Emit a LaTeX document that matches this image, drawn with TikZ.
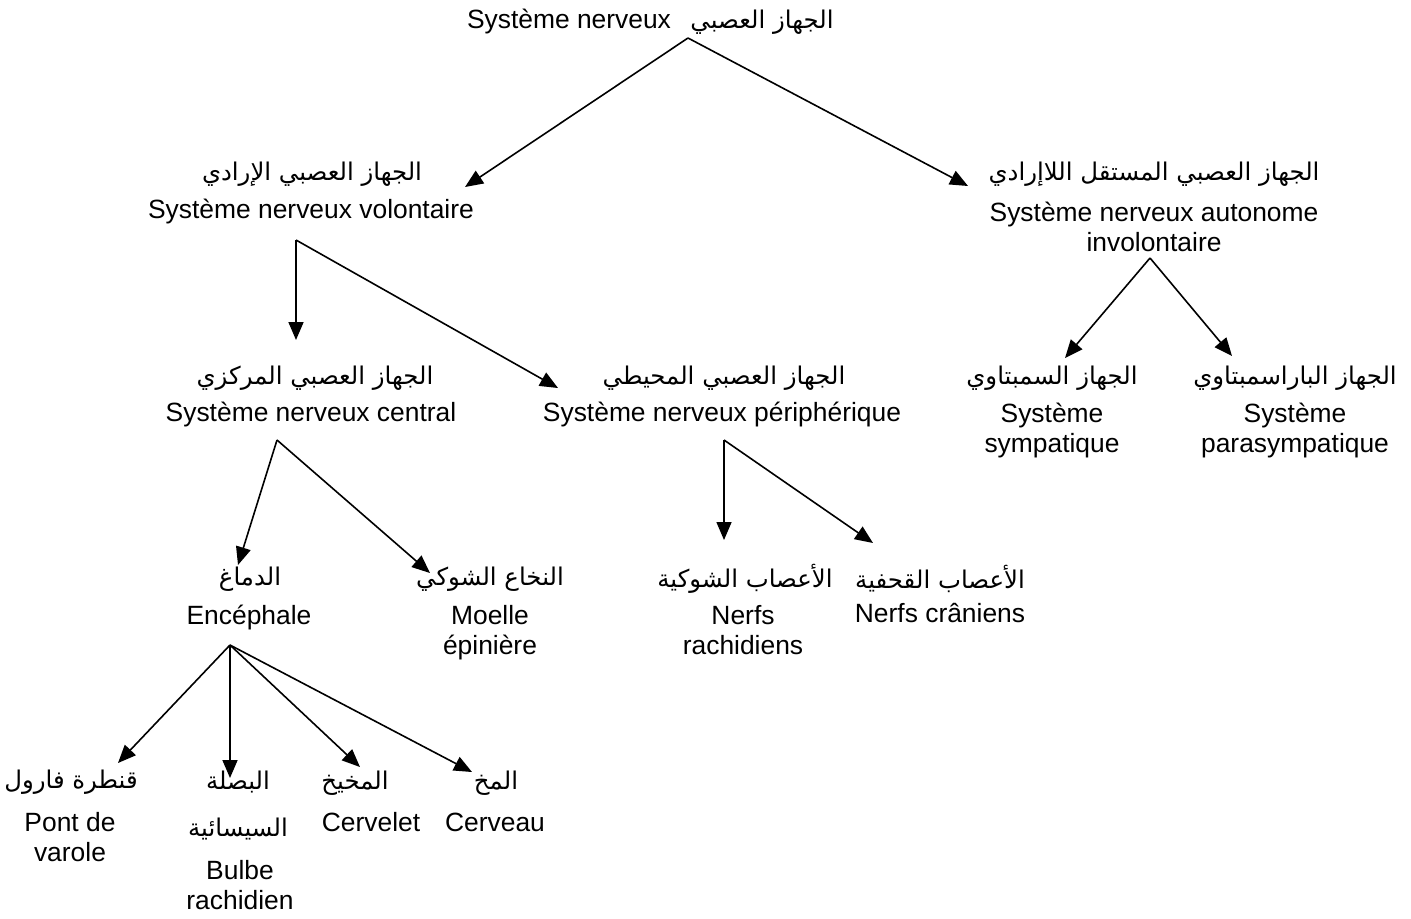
\documentclass[tikz,border=0pt]{standalone}
\usepackage{fontspec}
\setmainfont{Liberation Sans}
\newfontfamily\arabicfont[Script=Arabic]{DejaVu Sans}
\TeXXeTstate=1
\usetikzlibrary{arrows.meta}
\newcommand{\ar}[1]{{\arabicfont\beginR #1\endR}}
\begin{document}
\begin{tikzpicture}[x=0.5pt,y=-0.5pt,
  lat/.style={font=\fontsize{13.2}{15}\selectfont, align=center, inner sep=0pt},
  arb/.style={font=\fontsize{12.2}{14}\selectfont, inner sep=0pt},
  conn/.style={line width=0.8pt, -{Triangle[length=9pt,width=7.5pt]}}]
\useasboundingbox (0,0) rectangle (1411,918);
% top
\node[lat] (topL) at (569,22) {Système nerveux};
\node[arb] (topA) at (762,22) {\ar{الجهاز العصبي}};
% level 1
\node[arb] (volA) at (312,174) {\ar{الجهاز العصبي الإرادي}};
\node[lat] (volL) at (311,212) {Système nerveux volontaire};
\node[arb] (autA) at (1154,174) {\ar{الجهاز العصبي المستقل اللاإرادي}};
\node[lat] (autL) at (1154,227) {Système nerveux autonome\\involontaire};
% level 2
\node[arb] (cenA) at (315,378) {\ar{الجهاز العصبي المركزي}};
\node[lat] (cenL) at (311,415) {Système nerveux central};
\node[arb] (perA) at (724,378) {\ar{الجهاز العصبي المحيطي}};
\node[lat] (perL) at (722,415) {Système nerveux périphérique};
\node[arb] (symA) at (1052,378) {\ar{الجهاز السمبتاوي}};
\node[lat] (symL) at (1052,431) {Système\\sympatique};
\node[arb] (parA) at (1295,378) {\ar{الجهاز الباراسمبتاوي}};
\node[lat] (parL) at (1295,431) {Système\\parasympatique};
% level 3
\node[arb] (encA) at (250,579) {\ar{الدماغ}};
\node[lat] (encL) at (249,617) {Encéphale};
\node[arb] (moeA) at (490,579) {\ar{النخاع الشوكي}};
\node[lat] (moeL) at (490,633) {Moelle\\épinière};
\node[arb] (rachA) at (745,579) {\ar{الأعصاب الشوكية}};
\node[lat] (rachL) at (743,630) {Nerfs\\rachidiens};
\node[arb] (cranA) at (940,579) {\ar{الأعصاب القحفية}};
\node[lat] (cranL) at (940,613) {Nerfs crâniens};
% level 4
\node[arb] (ponA) at (71,782) {\ar{قنطرة فارول}};
\node[lat] (ponL) at (70,837) {Pont de\\varole};
\node[arb] (bulA) at (238,782) {\ar{البصلة}};
\node[arb] (bulA2) at (238,829) {\ar{السيسائية}};
\node[lat] (bulL) at (240,885) {Bulbe\\rachidien};
\node[arb] (cerA) at (355,783) {\ar{المخيخ}};
\node[lat] (cerL) at (371,822) {Cervelet};
\node[arb] (cvaA) at (496,783) {\ar{المخ}};
\node[lat] (cvaL) at (495,822) {Cerveau};
% connector points
\coordinate (ap0) at (688,38);
\coordinate (tA) at (465,187);
\coordinate (tB) at (968,186);
\coordinate (ap1) at (296,240);
\coordinate (tC) at (296,340);
\coordinate (tD) at (558,388);
\coordinate (ap2) at (1150,258);
\coordinate (tE) at (1065,358);
\coordinate (tF) at (1232,356);
\coordinate (ap3) at (277,440);
\coordinate (tG) at (238,565);
\coordinate (tH) at (430,573);
\coordinate (ap4) at (724,440);
\coordinate (tI) at (724,540);
\coordinate (tJ) at (873,543);
\coordinate (ap5) at (230,645);
\coordinate (tK) at (118,763);
\coordinate (tL) at (230,778);
\coordinate (tM) at (360,767);
\coordinate (tN) at (472,772);
% connectors
\draw[conn] (ap0) -- (tA);
\draw[conn] (ap0) -- (tB);
\draw[conn] (ap1) -- (tC);
\draw[conn] (ap1) -- (tD);
\draw[conn] (ap2) -- (tE);
\draw[conn] (ap2) -- (tF);
\draw[conn] (ap3) -- (tG);
\draw[conn] (ap3) -- (tH);
\draw[conn] (ap4) -- (tI);
\draw[conn] (ap4) -- (tJ);
\draw[conn] (ap5) -- (tK);
\draw[conn] (ap5) -- (tL);
\draw[conn] (ap5) -- (tM);
\draw[conn] (ap5) -- (tN);
\end{tikzpicture}
\end{document}
